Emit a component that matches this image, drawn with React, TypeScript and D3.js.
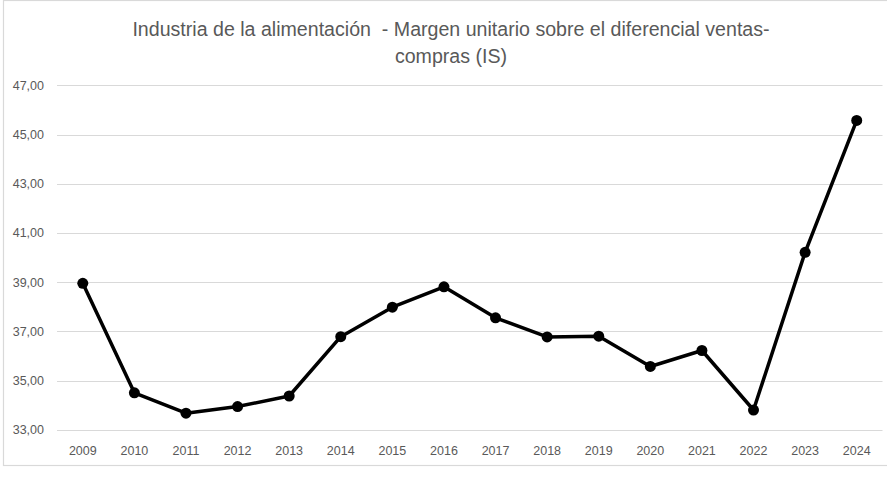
import { useEffect, useRef } from 'react';
import * as d3 from 'd3';

const YEARS = ['2009', '2010', '2011', '2012', '2013', '2014', '2015', '2016', '2017', '2018', '2019', '2020', '2021', '2022', '2023', '2024'];
const MARGEN = [38.95, 34.5, 33.67, 33.94, 34.37, 36.78, 37.98, 38.81, 37.55, 36.77, 36.8, 35.57, 36.22, 33.8, 40.21, 45.57];
const Y_TICKS = [33, 35, 37, 39, 41, 43, 45, 47];
const TITLE_LINES = ['Industria de la alimentación  - Margen unitario sobre el diferencial ventas-', 'compras (IS)'];

const W = 887;
const H = 478;
const FONT = "'Liberation Sans', Arial, sans-serif";
const GREY = '#595959';
const GRID = '#d9d9d9';

const App = () => {
  const svgRef = useRef<SVGSVGElement | null>(null);

  useEffect(() => {
    if (!svgRef.current) return;
    const svg = d3.select(svgRef.current);
    svg.selectAll('*').remove();

    const plot = { left: 57, right: 882.5, top: 85.3, bottom: 429.7 };

    // chart frame (right edge falls outside the picture)
    svg.append('rect')
      .attr('x', 3.5).attr('y', 0.5)
      .attr('width', 900).attr('height', 465)
      .attr('fill', '#fff').attr('stroke', GRID).attr('stroke-width', 1.2);

    const x = d3.scaleBand().domain(YEARS).range([plot.left, plot.right]);
    const y = d3.scaleLinear().domain([33, 47]).range([plot.bottom, plot.top]);

    // gridlines
    svg.append('g')
      .selectAll('line')
      .data(Y_TICKS).join('line')
      .attr('x1', plot.left).attr('x2', plot.right)
      .attr('y1', d => Math.round(y(d)) + 0.5).attr('y2', d => Math.round(y(d)) + 0.5)
      .attr('stroke', GRID).attr('stroke-width', 1);

    // y labels
    svg.append('g')
      .selectAll('text')
      .data(Y_TICKS).join('text')
      .attr('x', 44).attr('y', d => y(d) + 4.5)
      .attr('text-anchor', 'end')
      .attr('fill', GREY).attr('font-size', 12.5).attr('font-family', FONT)
      .text(d => d3.format('.2f')(d).replace('.', ','));

    // x labels
    svg.append('g')
      .selectAll('text')
      .data(YEARS).join('text')
      .attr('x', d => (x(d) as number) + x.bandwidth() / 2)
      .attr('y', 455)
      .attr('text-anchor', 'middle')
      .attr('fill', GREY).attr('font-size', 12.5).attr('font-family', FONT)
      .text(d => d);

    const cx = (i: number) => (x(YEARS[i]) as number) + x.bandwidth() / 2;

    const line = d3.line<number>()
      .x((_, i) => cx(i))
      .y(d => y(d));

    svg.append('path')
      .datum(MARGEN)
      .attr('d', line)
      .attr('fill', 'none')
      .attr('stroke', '#000')
      .attr('stroke-width', 3.5)
      .attr('stroke-linejoin', 'round');

    svg.append('g')
      .selectAll('circle')
      .data(MARGEN).join('circle')
      .attr('cx', (_, i) => cx(i))
      .attr('cy', d => y(d))
      .attr('r', 5.5)
      .attr('fill', '#000');

    // title, two lines as Excel wrapped it
    svg.append('g')
      .selectAll('text')
      .data(TITLE_LINES).join('text')
      .attr('x', 451).attr('y', (_, i) => 35.5 + i * 27)
      .attr('text-anchor', 'middle')
      .attr('fill', GREY).attr('font-size', 19.6).attr('font-family', FONT)
      .style('white-space', 'pre')
      .text(d => d);
  }, []);

  return (
    <svg ref={svgRef} width={W} height={H}
      style={{ position: 'absolute', left: 0, top: 0, background: '#fff' }} />
  );
};

export default App;
